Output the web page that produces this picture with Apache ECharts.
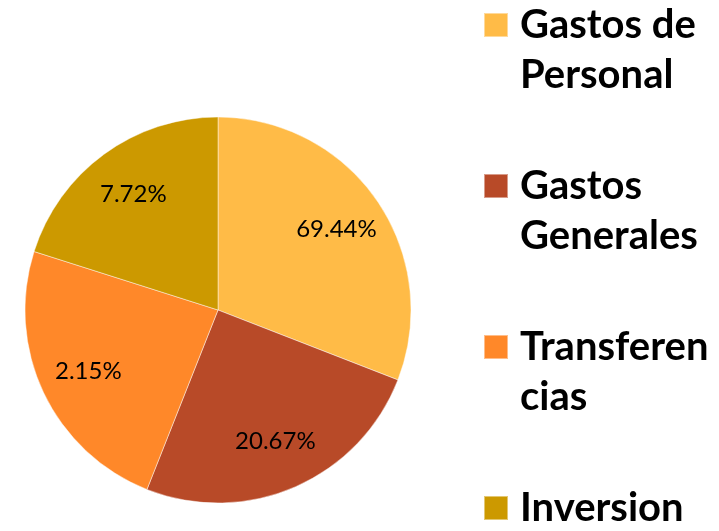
<!DOCTYPE html>
<html><head><meta charset="utf-8">
<style>html,body{margin:0;padding:0;background:#fff}#c{width:719px;height:531px}</style>
<script src="https://cdn.jsdelivr.net/npm/echarts@6/dist/echarts.min.js"></script>
</head><body><div id="c"></div>
<script>
// Categories (legend names)
const categories = ["Gastos de Personal", "Gastos Generales", "Transferencias", "Inversion"];
// Legend display text as wrapped in the reference (first line aligned with the swatch)
const legendText = ["\nGastos de\nPersonal", "\nGastos\nGenerales", "\nTransferen\ncias", "\nInversion\n "];
// Slice sizes as drawn in the picture (share of the circle, %)
const sliceValues = [30.9, 25.1, 23.9, 20.1];
// Percent labels printed on the slices
const percentLabels = ["69.44%", "20.67%", "2.15%", "7.72%"];
const colors = ["#FFBB47", "#B84A28", "#FF8829", "#CC9900"];

const chart = echarts.init(document.getElementById('c'), null, {renderer: 'canvas'});
const pieData = categories.map((n, i) => ({name: n, value: sliceValues[i], itemStyle: {color: colors[i]}}));
const ringData = categories.map((n, i) => ({name: n, value: sliceValues[i]}));

chart.setOption({
  animation: false,
  legend: {
    orient: 'vertical',
    left: 483,
    top: -50,
    height: 1000,
    padding: 0,
    itemWidth: 24,
    itemHeight: 24,
    itemGap: 11,
    icon: 'rect',
    selectedMode: false,
    formatter: name => legendText[categories.indexOf(name)],
    textStyle: {
      fontFamily: 'Lato', fontWeight: 'bold', fontSize: 40, color: '#000',
      lineHeight: 50, padding: [0, 0, 0, 7]
    },
    data: categories
  },
  series: [{
    type: 'pie',
    center: [218, 310],
    radius: [0, 193],
    startAngle: 90,
    clockwise: true,
    silent: true,
    label: {show: false},
    labelLine: {show: false},
    itemStyle: {borderColor: 'rgba(255,255,255,0.45)', borderWidth: 1},
    data: pieData
  }, {
    type: 'pie',
    center: [218, 310],
    radius: [88, 193],
    startAngle: 90,
    clockwise: true,
    silent: true,
    legendHoverLink: false,
    itemStyle: {color: 'rgba(0,0,0,0)'},
    label: {
      show: true, position: 'inside',
      formatter: p => percentLabels[p.dataIndex],
      fontFamily: 'Lato', fontSize: 24, color: '#000'
    },
    labelLine: {show: false},
    data: ringData
  }]
});
</script></body></html>
